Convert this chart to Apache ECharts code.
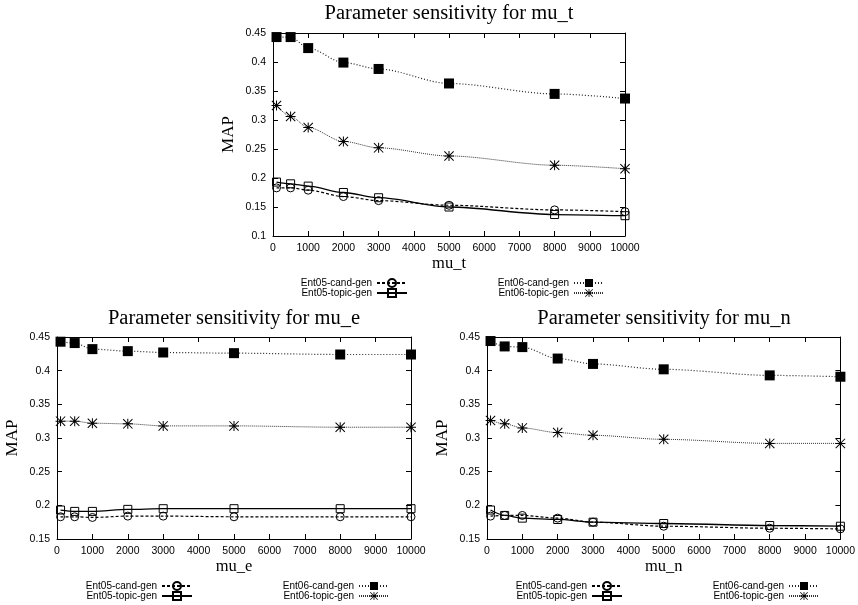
<!DOCTYPE html>
<html>
<head>
<meta charset="utf-8">
<script src="https://cdn.jsdelivr.net/npm/echarts@6/dist/echarts.min.js"></script>
<style>
  html, body { margin: 0; padding: 0; background: #fff; }
  #chart { width: 858px; height: 605px; }
</style>
</head>
<body>
<div id="chart"></div>
<script>
const muValues = [100, 500, 1000, 2000, 3000, 5000, 8000, 10000]
const seriesNames = ['Ent05-cand-gen', 'Ent05-topic-gen', 'Ent06-cand-gen', 'Ent06-topic-gen']
const chartTitles = ['Parameter sensitivity for mu_t', 'Parameter sensitivity for mu_e', 'Parameter sensitivity for mu_n']
const xNames = ['mu_t', 'mu_e', 'mu_n']
const yMins = [0.1, 0.15, 0.15]

// mu_t
const muTCand05 = [0.183, 0.183, 0.179, 0.168, 0.161, 0.153, 0.145, 0.142]
const muTTopic05 = [0.193, 0.190, 0.186, 0.175, 0.166, 0.150, 0.137, 0.135]
const muTCand06 = [0.443, 0.443, 0.424, 0.399, 0.388, 0.363, 0.345, 0.337]
const muTTopic06 = [0.325, 0.306, 0.287, 0.263, 0.252, 0.238, 0.222, 0.216]
// mu_e
const muECand05 = [0.183, 0.183, 0.182, 0.184, 0.184, 0.183, 0.183, 0.183]
const muETopic05 = [0.193, 0.191, 0.191, 0.194, 0.195, 0.195, 0.195, 0.195]
const muECand06 = [0.443, 0.441, 0.432, 0.429, 0.427, 0.426, 0.424, 0.424]
const muETopic06 = [0.325, 0.325, 0.322, 0.321, 0.318, 0.318, 0.316, 0.316]
// mu_n
const muNCand05 = [0.184, 0.185, 0.185, 0.181, 0.175, 0.169, 0.166, 0.165]
const muNTopic05 = [0.193, 0.185, 0.181, 0.179, 0.175, 0.173, 0.170, 0.169]
const muNCand06 = [0.444, 0.436, 0.435, 0.418, 0.410, 0.402, 0.393, 0.391]
const muNTopic06 = [0.326, 0.321, 0.315, 0.308, 0.304, 0.298, 0.292, 0.292]

const panelData = [
  [muTCand05, muTTopic05, muTCand06, muTTopic06],
  [muECand05, muETopic05, muECand06, muETopic06],
  [muNCand05, muNTopic05, muNCand06, muNTopic06],
]

// layout of the three panels (gnuplot multiplot look)
const grids = [
  { left: 273, right: 233, top: 33, bottom: 369 },
  { left: 57, right: 447, top: 337, bottom: 66 },
  { left: 487, right: 16, top: 337, bottom: 66 },
]
const titlePos = [{ x: 449, y: 3 }, { x: 234, y: 308 }, { x: 664, y: 308 }]
const legendPos = [
  { top: 278, r05: 450, r06: 253 },
  { top: 581, r05: 665, r06: 468 },
  { top: 581, r05: 235, r06: 38 },
]

const sansFont = 'Liberation Sans'
const serifFont = 'Liberation Serif'

const asterisk = 'path://M0,4.5L10,4.5L10,5.5L0,5.5Z M4.5,0L5.5,0L5.5,10L4.5,10Z M0.7,0L10,9.3L9.3,10L0,0.7Z M9.3,0L10,0.7L0.7,10L0,9.3Z'
const hollow = { color: 'rgba(0,0,0,0)', borderColor: '#000', borderWidth: 1 }

const looks = [
  { symbol: 'circle', symbolSize: 8, itemStyle: hollow, lineStyle: { color: '#000', width: 1.2, type: [3, 2] } },
  { symbol: 'rect', symbolSize: 8, itemStyle: hollow, lineStyle: { color: '#000', width: 1.3, type: 'solid' } },
  { symbol: 'rect', symbolSize: 10, itemStyle: { color: '#000' }, lineStyle: { color: '#222', width: 1.2, type: [1, 2] } },
  { symbol: asterisk, symbolSize: 10, itemStyle: { color: '#000' }, lineStyle: { color: '#333', width: 1, type: [1, 1] } },
]

function valueAxis(gridIndex, position, min, max, interval, showLabel) {
  return {
    type: 'value',
    gridIndex,
    position,
    min,
    max,
    interval,
    axisLine: { show: true, onZero: false, lineStyle: { color: '#000', width: 1 } },
    axisTick: { show: true, inside: true, length: 5, lineStyle: { color: '#000' } },
    axisLabel: {
      show: showLabel,
      color: '#000',
      fontFamily: sansFont,
      fontSize: 10.5,
      margin: 7,
      formatter: (v) => String(Math.round(v * 1000) / 1000),
    },
    splitLine: { show: false },
  }
}

const xAxis = []
const yAxis = []
const series = []
const title = []
const legend = []

grids.forEach((g, i) => {
  const bottomX = valueAxis(i, 'bottom', 0, 10000, 1000, true)
  bottomX.name = xNames[i]
  bottomX.nameLocation = 'middle'
  bottomX.nameGap = 15
  bottomX.nameTextStyle = { fontFamily: serifFont, fontSize: 16.5, color: '#000' }
  xAxis.push(bottomX, valueAxis(i, 'top', 0, 10000, 1000, false))

  const leftY = valueAxis(i, 'left', yMins[i], 0.45, 0.05, true)
  leftY.name = 'MAP'
  leftY.nameLocation = 'middle'
  leftY.nameGap = 36
  leftY.nameTextStyle = { fontFamily: serifFont, fontSize: 17, color: '#000' }
  yAxis.push(leftY, valueAxis(i, 'right', yMins[i], 0.45, 0.05, false))

  panelData[i].forEach((values, k) => {
    series.push(Object.assign({
      name: seriesNames[k],
      type: 'line',
      xAxisIndex: i * 2,
      yAxisIndex: i * 2,
      data: muValues.map((x, j) => [x, values[j]]),
      smooth: 0.3,
      smoothMonotone: 'x',
      emphasis: { disabled: true },
      z: 2 + k,
    }, looks[k]))
  })

  title.push({
    text: chartTitles[i],
    left: titlePos[i].x,
    top: titlePos[i].y,
    textAlign: 'center',
    padding: 0,
    textStyle: { fontFamily: serifFont, fontSize: 20.5, fontWeight: 'normal', color: '#000' },
  })

  const lp = legendPos[i]
  const legendBase = {
    orient: 'vertical',
    align: 'right',
    top: lp.top,
    itemWidth: 30,
    itemHeight: 10,
    itemGap: 0,
    padding: 0,
    selectedMode: false,
    textStyle: { fontFamily: sansFont, fontSize: 10, color: '#000', lineHeight: 10 },
  }
  legend.push(Object.assign({ data: seriesNames.slice(0, 2), right: lp.r05 }, legendBase))
  legend.push(Object.assign({ data: seriesNames.slice(2), right: lp.r06 }, legendBase))
})

const chart = echarts.init(document.getElementById('chart'))
chart.setOption({
  animation: false,
  backgroundColor: '#fff',
  title,
  legend,
  grid: grids.map((g) => Object.assign({ containLabel: false }, g)),
  xAxis,
  yAxis,
  series,
})
</script>
</body>
</html>
